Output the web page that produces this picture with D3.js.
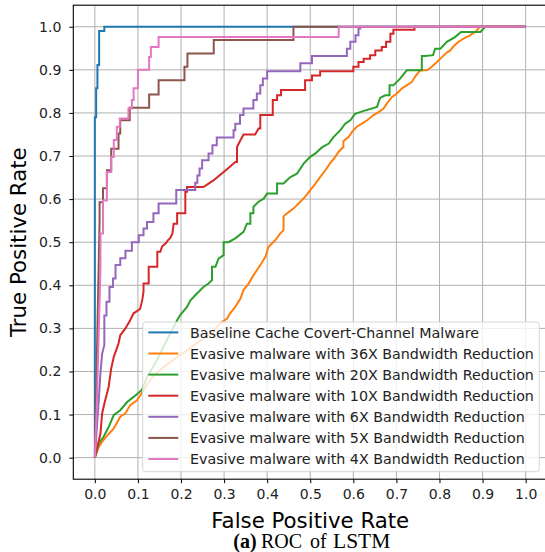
<!DOCTYPE html>
<html>
<head>
<meta charset="utf-8">
<script src="https://cdn.jsdelivr.net/npm/d3@7"></script>
<style>
  body { margin: 0; background: white; }
  text { font-family: "DejaVu Sans", sans-serif; }
</style>
</head>
<body>
<div id="roc"></div>
<script>
// ROC points, [false positive rate, true positive rate]
const baselineRoc = [[0,0],[0,0.79],[0.003,0.79],[0.003,0.857],[0.006,0.857],[0.006,0.911],[0.01,0.911],[0.01,0.99],[0.022,0.99],[0.022,1],[1,1]];

const bw36Roc = [[0,0],[0.009,0.025],[0.02,0.041],[0.032,0.055],[0.044,0.068],[0.059,0.095],[0.071,0.103],[0.082,0.122],[0.098,0.133],[0.109,0.15],[0.133,0.187],[0.16,0.211],[0.214,0.249],[0.268,0.288],[0.295,0.315],[0.307,0.323],[0.314,0.335],[0.326,0.35],[0.338,0.369],[0.345,0.389],[0.357,0.404],[0.368,0.423],[0.384,0.447],[0.396,0.466],[0.403,0.489],[0.419,0.505],[0.43,0.52],[0.438,0.528],[0.438,0.56],[0.446,0.567],[0.461,0.578],[0.473,0.59],[0.488,0.605],[0.5,0.621],[0.512,0.636],[0.523,0.651],[0.535,0.667],[0.546,0.683],[0.558,0.698],[0.566,0.71],[0.577,0.721],[0.577,0.735],[0.589,0.744],[0.597,0.756],[0.608,0.768],[0.62,0.775],[0.632,0.783],[0.647,0.795],[0.659,0.802],[0.67,0.81],[0.678,0.822],[0.69,0.837],[0.701,0.845],[0.713,0.857],[0.724,0.864],[0.736,0.872],[0.744,0.885],[0.755,0.899],[0.771,0.899],[0.782,0.907],[0.794,0.918],[0.802,0.926],[0.817,0.94],[0.825,0.945],[0.833,0.955],[0.844,0.965],[0.86,0.975],[0.871,0.98],[0.885,0.99],[0.894,1],[1,1]];

const bw20Roc = [[0,0],[0.009,0.033],[0.02,0.048],[0.032,0.071],[0.044,0.099],[0.059,0.11],[0.075,0.129],[0.09,0.141],[0.109,0.157],[0.121,0.187],[0.144,0.226],[0.167,0.273],[0.191,0.319],[0.198,0.331],[0.214,0.35],[0.222,0.365],[0.233,0.377],[0.252,0.396],[0.264,0.404],[0.272,0.412],[0.272,0.443],[0.28,0.443],[0.287,0.462],[0.299,0.47],[0.299,0.5],[0.31,0.5],[0.326,0.509],[0.345,0.524],[0.353,0.543],[0.361,0.543],[0.361,0.567],[0.368,0.567],[0.368,0.582],[0.38,0.594],[0.392,0.601],[0.4,0.613],[0.423,0.613],[0.423,0.636],[0.438,0.636],[0.454,0.651],[0.469,0.659],[0.485,0.683],[0.5,0.698],[0.512,0.706],[0.527,0.72],[0.543,0.729],[0.554,0.744],[0.57,0.76],[0.581,0.775],[0.593,0.783],[0.604,0.798],[0.628,0.806],[0.655,0.814],[0.662,0.835],[0.674,0.841],[0.684,0.841],[0.684,0.864],[0.693,0.864],[0.709,0.88],[0.724,0.899],[0.759,0.899],[0.759,0.932],[0.767,0.932],[0.785,0.934],[0.79,0.949],[0.802,0.949],[0.817,0.965],[0.836,0.976],[0.85,0.988],[0.895,0.988],[0.906,1],[1,1]];

const bw10Roc = [[0,0],[0.013,0.056],[0.017,0.103],[0.024,0.133],[0.032,0.164],[0.038,0.207],[0.044,0.234],[0.055,0.265],[0.059,0.284],[0.071,0.3],[0.082,0.319],[0.09,0.335],[0.105,0.345],[0.11,0.365],[0.113,0.385],[0.113,0.404],[0.125,0.404],[0.125,0.443],[0.145,0.443],[0.145,0.478],[0.152,0.478],[0.156,0.49],[0.164,0.497],[0.17,0.505],[0.175,0.51],[0.18,0.52],[0.183,0.543],[0.191,0.543],[0.191,0.567],[0.21,0.567],[0.21,0.617],[0.214,0.617],[0.214,0.628],[0.252,0.628],[0.264,0.636],[0.276,0.644],[0.287,0.653],[0.299,0.663],[0.31,0.672],[0.326,0.686],[0.33,0.686],[0.33,0.721],[0.337,0.735],[0.345,0.75],[0.372,0.75],[0.38,0.764],[0.384,0.764],[0.384,0.795],[0.413,0.795],[0.413,0.83],[0.423,0.83],[0.423,0.841],[0.432,0.841],[0.432,0.853],[0.488,0.853],[0.488,0.876],[0.504,0.876],[0.504,0.887],[0.523,0.887],[0.523,0.897],[0.6,0.897],[0.6,0.907],[0.612,0.907],[0.612,0.918],[0.624,0.918],[0.624,0.926],[0.639,0.926],[0.639,0.934],[0.651,0.934],[0.651,0.945],[0.666,0.945],[0.666,0.953],[0.676,0.953],[0.676,0.965],[0.686,0.965],[0.686,0.984],[0.693,0.984],[0.693,0.993],[0.742,0.993],[0.742,1],[1,1]];

const bw6Roc = [[0,0],[0.009,0.133],[0.013,0.196],[0.017,0.242],[0.022,0.261],[0.022,0.33],[0.027,0.33],[0.027,0.362],[0.034,0.362],[0.034,0.396],[0.042,0.396],[0.042,0.416],[0.048,0.416],[0.048,0.447],[0.059,0.447],[0.059,0.463],[0.071,0.463],[0.071,0.48],[0.086,0.48],[0.086,0.5],[0.102,0.5],[0.102,0.516],[0.113,0.516],[0.113,0.532],[0.121,0.532],[0.121,0.547],[0.136,0.547],[0.136,0.567],[0.148,0.567],[0.148,0.59],[0.189,0.59],[0.189,0.621],[0.233,0.621],[0.233,0.638],[0.238,0.638],[0.238,0.655],[0.243,0.655],[0.243,0.671],[0.249,0.671],[0.249,0.69],[0.264,0.69],[0.264,0.706],[0.273,0.706],[0.273,0.725],[0.283,0.725],[0.283,0.743],[0.322,0.743],[0.322,0.76],[0.326,0.76],[0.326,0.775],[0.337,0.775],[0.337,0.795],[0.345,0.795],[0.345,0.81],[0.368,0.81],[0.368,0.83],[0.376,0.83],[0.376,0.845],[0.384,0.845],[0.384,0.864],[0.39,0.864],[0.39,0.88],[0.4,0.88],[0.4,0.897],[0.477,0.897],[0.477,0.915],[0.504,0.915],[0.504,0.932],[0.585,0.932],[0.585,0.949],[0.593,0.949],[0.593,0.965],[0.605,0.965],[0.605,0.98],[0.612,0.98],[0.612,0.996],[0.616,0.996],[0.616,1],[1,1]];

const bw5Roc = [[0,0],[0.005,0.25],[0.009,0.45],[0.011,0.55],[0.011,0.593],[0.019,0.593],[0.019,0.625],[0.028,0.625],[0.028,0.667],[0.038,0.667],[0.038,0.717],[0.055,0.717],[0.055,0.752],[0.059,0.752],[0.059,0.783],[0.081,0.783],[0.081,0.812],[0.126,0.812],[0.126,0.843],[0.148,0.843],[0.148,0.876],[0.208,0.876],[0.208,0.907],[0.215,0.907],[0.215,0.938],[0.276,0.938],[0.276,0.969],[0.461,0.969],[0.461,1],[1,1]];

const bw4Roc = [[0,0],[0.005,0.13],[0.009,0.29],[0.013,0.44],[0.013,0.52],[0.019,0.52],[0.019,0.597],[0.028,0.597],[0.028,0.663],[0.038,0.663],[0.038,0.698],[0.044,0.698],[0.044,0.737],[0.051,0.737],[0.051,0.768],[0.058,0.768],[0.058,0.787],[0.078,0.787],[0.078,0.81],[0.086,0.81],[0.086,0.83],[0.09,0.83],[0.09,0.857],[0.1,0.857],[0.1,0.9],[0.126,0.9],[0.126,0.93],[0.13,0.93],[0.13,0.953],[0.148,0.953],[0.148,0.976],[0.566,0.976],[0.566,1],[1,1]];

const seriesData = [baselineRoc, bw36Roc, bw20Roc, bw10Roc, bw6Roc, bw5Roc, bw4Roc];
const seriesNames = [
    'Baseline Cache Covert-Channel Malware',
    'Evasive malware with 36X Bandwidth Reduction',
    'Evasive malware with 20X Bandwidth Reduction',
    'Evasive malware with 10X Bandwidth Reduction',
    'Evasive malware with 6X Bandwidth Reduction',
    'Evasive malware with 5X Bandwidth Reduction',
    'Evasive malware with 4X Bandwidth Reduction'
];
const seriesColors = ['#1f77b4', '#ff7f0e', '#2ca02c', '#d62728', '#9467bd', '#8c564b', '#e377c2'];
const tickValues = [0, 0.1, 0.2, 0.3, 0.4, 0.5, 0.6, 0.7, 0.8, 0.9, 1.0];

let width = 545,
    height = 552;

// plot frame, the right spine falls just past the page edge
let frame = {left: 73.3, right: 547.2, top: 5.2, bottom: 479.2};

let svg = d3.select('#roc')
            .append('svg')
            .attr('width', width)
            .attr('height', height)
            .style('display', 'block')
            .style('background', 'white');

let xScale = d3.scaleLinear()
            .domain([-0.05, 1.05])
            .range([frame.left, frame.right]);

let yScale = d3.scaleLinear()
            .domain([-0.05, 1.05])
            .range([frame.bottom, frame.top]);

// grid
svg.append('g')
    .selectAll('line')
    .data(tickValues)
    .enter().append('line')
    .attr('x1', d => xScale(d)).attr('x2', d => xScale(d))
    .attr('y1', frame.top).attr('y2', frame.bottom)
    .attr('stroke', '#b0b0b0').attr('stroke-width', 1);

svg.append('g')
    .selectAll('line')
    .data(tickValues)
    .enter().append('line')
    .attr('x1', frame.left).attr('x2', frame.right)
    .attr('y1', d => yScale(d)).attr('y2', d => yScale(d))
    .attr('stroke', '#b0b0b0').attr('stroke-width', 1);

// axes
let xAxis = svg.append('g')
            .attr('transform', `translate(0, ${frame.bottom})`)
            .call(d3.axisBottom(xScale).tickValues(tickValues).tickFormat(d3.format('.1f'))
                  .tickSizeInner(4).tickSizeOuter(0).tickPadding(6));

let yAxis = svg.append('g')
            .attr('transform', `translate(${frame.left}, 0)`)
            .call(d3.axisLeft(yScale).tickValues(tickValues).tickFormat(d3.format('.1f'))
                  .tickSizeInner(4).tickSizeOuter(0).tickPadding(8));

[xAxis, yAxis].forEach(function(ax) {
    ax.select('.domain').remove();
    ax.selectAll('.tick line').attr('stroke', 'black').attr('stroke-width', 1);
    ax.selectAll('.tick text')
        .attr('fill', '#222')
        .style('font-size', '14px')
        .style('font-family', '"DejaVu Sans", sans-serif');
});

// curves
let clip = svg.append('clipPath').attr('id', 'plot-clip')
            .append('rect')
            .attr('x', frame.left).attr('y', frame.top)
            .attr('width', frame.right - frame.left)
            .attr('height', frame.bottom - frame.top);

let line = d3.line()
            .x(d => xScale(d[0]))
            .y(d => yScale(d[1]));

svg.append('g')
    .attr('clip-path', 'url(#plot-clip)')
    .selectAll('path')
    .data(seriesData)
    .enter().append('path')
    .attr('d', line)
    .attr('fill', 'none')
    .attr('stroke', (d, i) => seriesColors[i])
    .attr('stroke-width', 2)
    .attr('stroke-linejoin', 'miter');

// spines
svg.append('rect')
    .attr('x', frame.left).attr('y', frame.top)
    .attr('width', frame.right - frame.left)
    .attr('height', frame.bottom - frame.top)
    .attr('fill', 'none')
    .attr('stroke', 'black')
    .attr('stroke-width', 1.1);

// legend
let legendBox = {x: 142.7, y: 322, w: 396.6, h: 149.7, row: 21.1};

svg.append('rect')
    .attr('x', legendBox.x).attr('y', legendBox.y)
    .attr('width', legendBox.w).attr('height', legendBox.h)
    .attr('rx', 3)
    .attr('fill', 'white').attr('fill-opacity', 0.8)
    .attr('stroke', '#d6d6d6').attr('stroke-width', 1);

const legend = svg.selectAll('.legend')
                .data(seriesNames)
                .enter().append('g')
                .attr('class', 'legend')
                .attr('transform', (d, i) => `translate(${legendBox.x + 5.6}, ${legendBox.y + 10.4 + i * legendBox.row})`);

legend.append('line')
    .attr('x1', 0).attr('x2', 30)
    .attr('stroke', (d, i) => seriesColors[i])
    .attr('stroke-width', 2);

legend.append('text')
    .attr('x', 41.7)
    .attr('dy', '0.36em')
    .attr('fill', '#222')
    .style('font-size', '14.25px')
    .text(d => d);

// axis titles
svg.append('text')
    .attr('x', (frame.left + frame.right) / 2)
    .attr('y', 528)
    .style('text-anchor', 'middle')
    .style('font-size', '21.3px')
    .text('False Positive Rate');

svg.append('text')
    .attr('transform', `translate(26, ${(frame.top + frame.bottom) / 2}) rotate(-90)`)
    .style('text-anchor', 'middle')
    .style('font-size', '21.3px')
    .text('True Positive Rate');

// caption under the plot
let caption = svg.append('text')
    .attr('y', 547.5)
    .style('font-family', '"Liberation Serif", "Times New Roman", serif')
    .style('font-size', '20px');

caption.append('tspan').attr('x', 233.3).style('font-weight', 'bold').text('(a)');
caption.append('tspan').attr('x', 261).text('ROC');
caption.append('tspan').attr('x', 310).text('of');
caption.append('tspan').attr('x', 333).style('font-size', '21.5px').text('LSTM');
</script>
</body>
</html>
